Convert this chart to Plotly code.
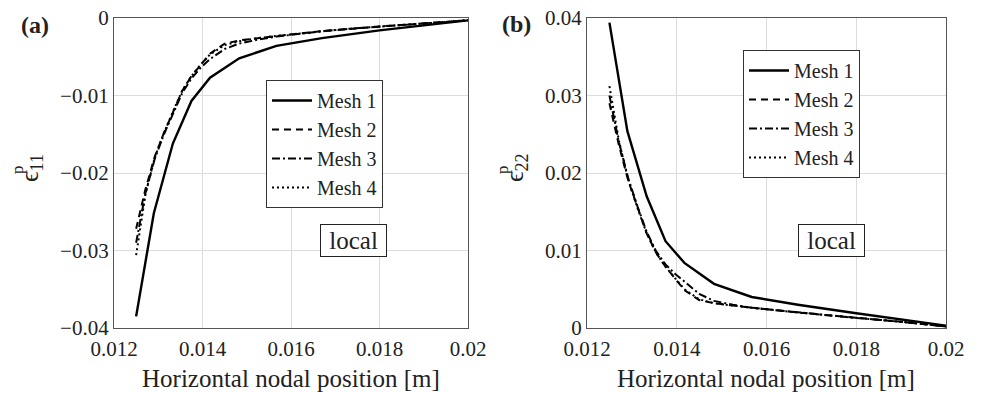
import plotly.graph_objects as go

# ---------------- data ----------------
x_mesh1 = [0.0125, 0.0129, 0.01333, 0.01375, 0.01417, 0.01483, 0.01567, 0.0167, 0.0180, 0.0200]
e11_mesh1 = [-0.0385, -0.0252, -0.0162, -0.0107, -0.0077, -0.0052, -0.0036, -0.0026, -0.0016, -0.0003]
e22_mesh1 = [0.0394, 0.0254, 0.0170, 0.0112, 0.0084, 0.0057, 0.0040, 0.0030, 0.0019, 0.0003]

x_fine = [0.0125, 0.01271, 0.01292, 0.01313, 0.01333, 0.01354, 0.01375, 0.01396, 0.01417,
          0.01450, 0.01483, 0.01525, 0.01567, 0.0162, 0.0167, 0.0173, 0.0180, 0.0190, 0.0200]

e11_mesh2 = [-0.0272, -0.0221, -0.0179, -0.0148, -0.0122, -0.0094, -0.0075, -0.0060, -0.0046,
             -0.0033, -0.0029, -0.0026, -0.0023, -0.0020, -0.0017, -0.0014, -0.0011, -0.0007, -0.0003]
e11_mesh3 = [-0.0290, -0.0226, -0.0182, -0.0150, -0.0124, -0.0097, -0.0078, -0.0064, -0.0053,
             -0.0040, -0.0033, -0.0028, -0.0024, -0.0020, -0.0017, -0.0014, -0.0011, -0.0007, -0.0003]
e11_mesh4 = [-0.0306, -0.0228, -0.0180, -0.0148, -0.0121, -0.0094, -0.0075, -0.0060, -0.0047,
             -0.0035, -0.0030, -0.0026, -0.0023, -0.0020, -0.0017, -0.0014, -0.0011, -0.0007, -0.0003]

e22_mesh2 = [0.0290, 0.0236, 0.0190, 0.0154, 0.0122, 0.0097, 0.0079, 0.0064, 0.0049,
             0.0036, 0.0032, 0.0029, 0.0026, 0.0023, 0.0020, 0.0017, 0.0013, 0.0008, 0.0002]
e22_mesh3 = [0.0300, 0.0240, 0.0193, 0.0156, 0.0124, 0.0099, 0.0082, 0.0070, 0.0060,
             0.0044, 0.0035, 0.0030, 0.0026, 0.0023, 0.0020, 0.0017, 0.0013, 0.0008, 0.0002]
e22_mesh4 = [0.0312, 0.0242, 0.0191, 0.0154, 0.0122, 0.0097, 0.0079, 0.0064, 0.0050,
             0.0037, 0.0032, 0.0029, 0.0026, 0.0023, 0.0020, 0.0017, 0.0013, 0.0008, 0.0002]

mesh_names = ["Mesh 1", "Mesh 2", "Mesh 3", "Mesh 4"]
x_ticks = [0.012, 0.014, 0.016, 0.018, 0.02]
y_ticks_a = [0, -0.01, -0.02, -0.03, -0.04]
y_ticks_b = [0, 0.01, 0.02, 0.03, 0.04]
x_title = "Horizontal nodal position [m]"

# ---------------- styles ----------------
dashes = ["solid", "7px,5px", "8px,3px,2px,3px", "2px,3px"]
widths = [2.4, 2.0, 2.0, 2.0]
FONT = "Liberation Serif, DejaVu Serif, serif"
NB = "\u00a0"

fig = go.Figure()

left = [(x_mesh1, e11_mesh1), (x_fine, e11_mesh2), (x_fine, e11_mesh3), (x_fine, e11_mesh4)]
right = [(x_mesh1, e22_mesh1), (x_fine, e22_mesh2), (x_fine, e22_mesh3), (x_fine, e22_mesh4)]

for i, (xs, ys) in enumerate(left):
    fig.add_trace(go.Scatter(x=xs, y=ys, mode="lines", name=mesh_names[i],
                             line=dict(color="black", width=widths[i], dash=dashes[i]),
                             xaxis="x", yaxis="y", legend="legend"))
for i, (xs, ys) in enumerate(right):
    fig.add_trace(go.Scatter(x=xs, y=ys, mode="lines", name=mesh_names[i],
                             line=dict(color="black", width=widths[i], dash=dashes[i]),
                             xaxis="x2", yaxis="y2", legend="legend2"))

axis_common = dict(showline=True, mirror=True, linecolor="#555", linewidth=1.3,
                   showgrid=True, gridcolor="#dcdcdc", gridwidth=1, zeroline=False,
                   ticks="", automargin=False,
                   tickfont=dict(family=FONT, size=21, color="#222"))

yd = [65 / 393, 375 / 393]
legend_common = dict(xanchor="left", yanchor="top", bgcolor="white", bordercolor="#333",
                     borderwidth=1, itemwidth=40, entrywidth=90, entrywidthmode="pixels",
                     font=dict(family=FONT, size=20, color="#222"))
fig.update_layout(
    template="none",
    width=983, height=393,
    autosize=False,
    font=dict(family=FONT, color="#222"),
    margin=dict(l=0, r=0, t=0, b=0, pad=0),
    paper_bgcolor="white", plot_bgcolor="white",
    xaxis=dict(domain=[114 / 983, 468 / 983], range=[0.012, 0.02], tickvals=x_ticks,
               ticktext=[str(v) for v in x_ticks], anchor="y", ticklabelstandoff=2,
               **axis_common),
    yaxis=dict(domain=yd, range=[-0.04, 0], tickvals=y_ticks_a,
               ticktext=["0" if v == 0 else "\u2212" + str(abs(v)) for v in y_ticks_a],
               anchor="x", **axis_common),
    xaxis2=dict(domain=[587 / 983, 946 / 983], range=[0.012, 0.02], tickvals=x_ticks,
                ticktext=[str(v) for v in x_ticks], anchor="y2", ticklabelstandoff=2,
                **axis_common),
    yaxis2=dict(domain=yd, range=[0, 0.04], tickvals=y_ticks_b,
                ticktext=["0" if v == 0 else str(v) for v in y_ticks_b],
                anchor="x2", **axis_common),
    legend=dict(x=266 / 983, y=1 - 80 / 393, **legend_common),
    legend2=dict(x=743 / 983, y=1 - 50 / 393, **legend_common),
    showlegend=True,
)

ann = []
# x titles
for cx in [291 / 983, 766 / 983]:
    ann.append(dict(x=cx, y=1 - 378 / 393, xref="paper", yref="paper", text=x_title,
                    showarrow=False, font=dict(family=FONT, size=25, color="#222"),
                    xanchor="center", yanchor="middle"))
# local boxes
for cx in [353 / 983, 831 / 983]:
    ann.append(dict(x=cx, y=1 - 240 / 393, xref="paper", yref="paper", text=NB + "local" + NB,
                    showarrow=False, font=dict(family=FONT, size=25, color="#222"),
                    bordercolor="#222", borderwidth=1, borderpad=2, bgcolor="white",
                    xanchor="center", yanchor="middle"))
# panel labels
ann.append(dict(x=35 / 983, y=1 - 25 / 393, xref="paper", yref="paper", text="<b>(a)</b>",
                showarrow=False, font=dict(family=FONT, size=24, color="#222"),
                xanchor="center", yanchor="middle"))
ann.append(dict(x=516 / 983, y=1 - 24 / 393, xref="paper", yref="paper", text="<b>(b)</b>",
                showarrow=False, font=dict(family=FONT, size=24, color="#222"),
                xanchor="center", yanchor="middle"))
# y titles: epsilon with subscript + superscript p
for ex, sub in [(28, "11"), (513, "22")]:
    ann.append(dict(x=(ex + 3) / 983, y=1 - 168 / 393, xref="paper", yref="paper",
                    text="\u03f5<sub>" + sub + "</sub>", textangle=-90, showarrow=False,
                    font=dict(family=FONT, size=26, color="#222"),
                    xanchor="center", yanchor="middle"))
    ann.append(dict(x=(ex - 11) / 983, y=1 - 170 / 393, xref="paper", yref="paper",
                    text="p", textangle=-90, showarrow=False,
                    font=dict(family=FONT, size=17, color="#222"),
                    xanchor="center", yanchor="middle"))
fig.update_layout(annotations=ann)

fig.write_html("out.html")
